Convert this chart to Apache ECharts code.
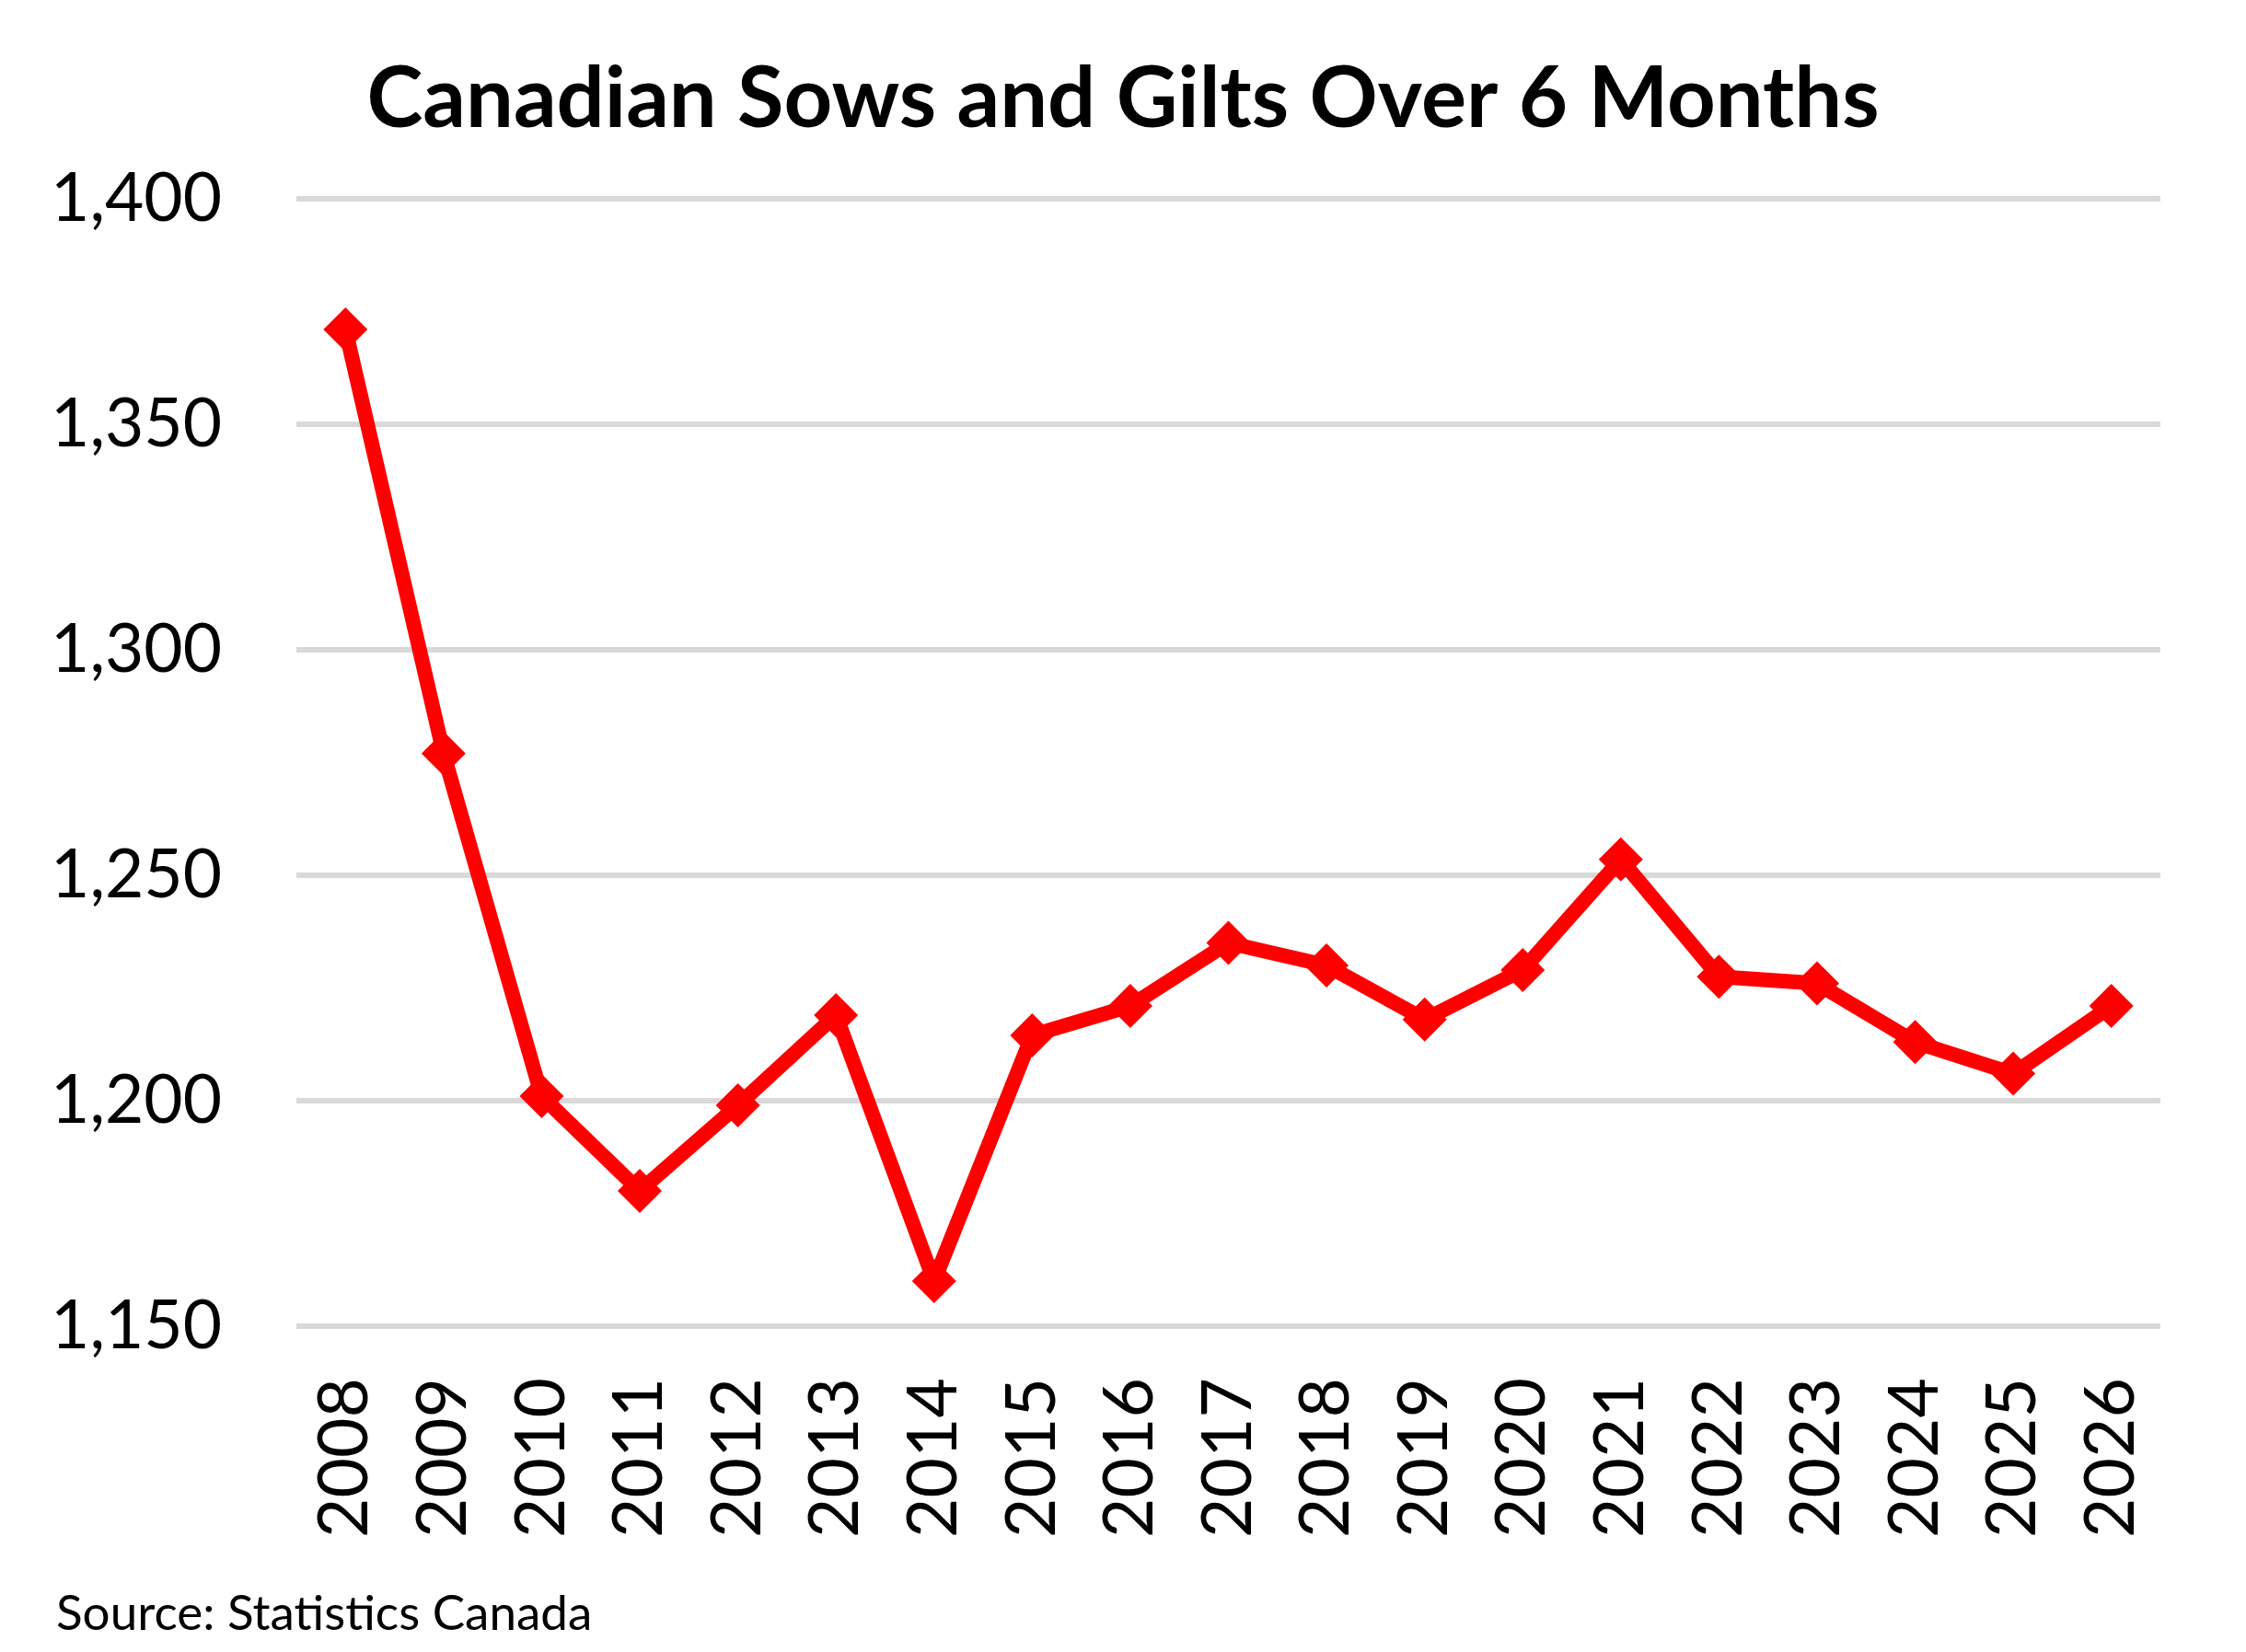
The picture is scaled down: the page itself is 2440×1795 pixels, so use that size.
<!DOCTYPE html>
<html>
<head>
<meta charset="utf-8">
<script src="https://cdn.jsdelivr.net/npm/echarts@6/dist/echarts.min.js"></script>
<style>
  html, body { margin: 0; padding: 0; background: #ffffff; }
  #chart { width: 2440px; height: 1795px; }
</style>
</head>
<body>
<div id="chart"></div>
<script>
const titleText = 'Canadian Sows and Gilts Over 6 Months';
const sourceText = 'Source: Statistics Canada';
const years = ['2008','2009','2010','2011','2012','2013','2014','2015','2016','2017','2018','2019','2020','2021','2022','2023','2024','2025','2026'];
const sowsAndGilts = [1371, 1277, 1201, 1180, 1199, 1219, 1160, 1214.5, 1221, 1235, 1230, 1218, 1229, 1253.5, 1227.5, 1226, 1213, 1206, 1221];
const yTicks = { min: 1150, max: 1400, step: 50 };

const chart = echarts.init(document.getElementById('chart'), null, { renderer: 'canvas' });
const FONT = 'Lato';

chart.setOption({
  animation: false,
  backgroundColor: '#ffffff',
  title: {
    text: titleText,
    left: 'center',
    top: 57,
    textStyle: { fontFamily: FONT, fontWeight: 'bold', fontSize: 92, color: '#000000' }
  },
  graphic: [{
    type: 'text',
    left: 61,
    top: 1727,
    style: { text: sourceText, fontFamily: FONT, fontSize: 53, fill: '#000000' }
  }],
  grid: { left: 322, right: 93, top: 216, bottom: 354, containLabel: false },
  xAxis: {
    type: 'category',
    data: years,
    boundaryGap: true,
    axisLine: { show: false },
    axisTick: { show: false },
    axisLabel: { rotate: 90, margin: 56, fontFamily: FONT, fontSize: 75, color: '#000000', interval: 0 }
  },
  yAxis: {
    type: 'value',
    min: yTicks.min,
    max: yTicks.max,
    interval: yTicks.step,
    axisLine: { show: false },
    axisTick: { show: false },
    splitLine: { show: true, lineStyle: { color: '#d9d9d9', width: 6 } },
    axisLabel: {
      margin: 81,
      fontFamily: FONT,
      fontSize: 73,
      color: '#000000',
      formatter: v => v.toLocaleString('en-US')
    }
  },
  series: [{
    type: 'line',
    data: sowsAndGilts,
    symbol: 'diamond',
    symbolSize: 48,
    lineStyle: { color: '#ff0000', width: 16, join: 'round' },
    itemStyle: { color: '#ff0000' },
    z: 3
  }]
});
</script>
</body>
</html>
